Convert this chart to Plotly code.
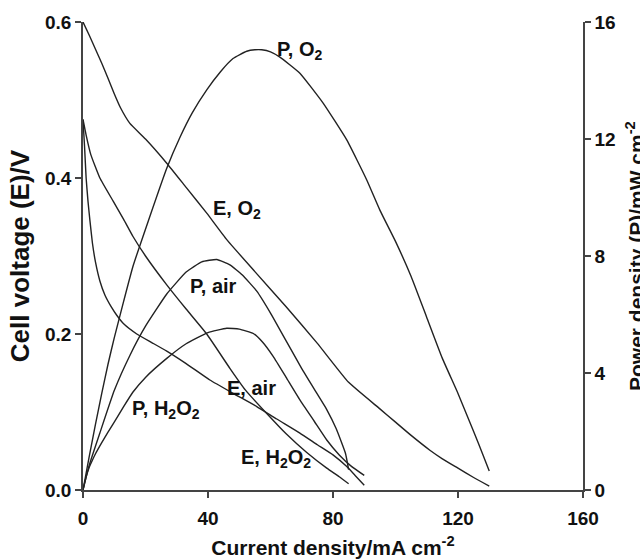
import plotly.graph_objects as go

# ---- data ----
x_E_O2 = [0, 2, 4, 6, 8, 10, 12, 15, 20, 26.8, 33, 39.6, 46, 55, 65, 75, 85, 95, 100, 105, 111, 115, 120, 125, 130]
E_O2 = [0.600, 0.583, 0.565, 0.547, 0.528, 0.508, 0.490, 0.470, 0.450, 0.419, 0.388, 0.355, 0.321, 0.280, 0.235, 0.188, 0.138, 0.104, 0.087, 0.070, 0.051, 0.040, 0.028, 0.016, 0.005]

x_P_O2 = [0, 2, 4, 6, 8, 10, 13, 16, 20.9, 26.8, 31, 35, 39.6, 44, 48, 52.4, 55, 57.2, 60, 63, 69.4, 76.9, 84.4, 90.8, 95, 100, 105, 110, 115, 120, 125, 128, 130]
P_O2 = [0, 1.15, 2.25, 3.3, 4.3, 5.2, 6.45, 7.65, 9.2, 11.0, 12.05, 12.9, 13.68, 14.3, 14.75, 15.0, 15.05, 15.05, 14.98, 14.8, 14.25, 13.22, 11.97, 10.6, 9.57, 8.5, 7.3, 5.9, 4.5, 3.3, 2.0, 1.2, 0.65]

x_E_air = [0, 1, 2.5, 5.4, 9.7, 13, 16, 20, 26.8, 33, 39.6, 47, 52, 58.8, 65, 71.6, 78, 82, 85]
E_air = [0.475, 0.455, 0.43, 0.40, 0.37, 0.347, 0.325, 0.300, 0.263, 0.232, 0.200, 0.156, 0.128, 0.098, 0.072, 0.048, 0.028, 0.017, 0.008]

x_P_air = [0, 2, 5.4, 10, 15, 20, 26.8, 33, 38, 42.8, 47, 51, 55.6, 60, 65, 70, 74, 78, 81, 84, 85]
P_air = [0, 0.85, 1.95, 3.4, 4.6, 5.6, 6.7, 7.45, 7.8, 7.88, 7.7, 7.35, 6.8, 6.05, 5.1, 4.15, 3.45, 2.75, 2.1, 1.25, 0.7]

x_E_H2O2 = [0, 0.5, 1, 1.6, 2.2, 3, 4, 5.4, 7, 9, 10.8, 13, 17.2, 22, 26.8, 33, 40.6, 48, 55.6, 62, 69.4, 75, 80, 84.4, 87, 90]
E_H2O2 = [0.475, 0.44, 0.40, 0.37, 0.346, 0.317, 0.292, 0.268, 0.250, 0.235, 0.224, 0.213, 0.200, 0.189, 0.178, 0.162, 0.141, 0.124, 0.107, 0.091, 0.073, 0.058, 0.045, 0.030, 0.019, 0.006]

x_P_H2O2 = [0, 1, 2, 3, 4, 6, 8, 10, 13, 16, 20, 26.8, 33, 40, 46, 50, 54.5, 57.5, 60.9, 65, 69.4, 74, 78, 82, 86, 90]
P_H2O2 = [0, 0.45, 0.78, 1.02, 1.24, 1.62, 1.98, 2.32, 2.85, 3.35, 3.85, 4.5, 5.0, 5.38, 5.53, 5.5, 5.35, 5.05, 4.56, 3.85, 3.08, 2.35, 1.71, 1.2, 0.8, 0.5]

x_ticks = [0, 40, 80, 120, 160]
yl_ticks = [0.0, 0.2, 0.4, 0.6]
yr_ticks = [0, 4, 8, 12, 16]

labels = ["P, O<sub>2</sub>", "E, O<sub>2</sub>", "P, air", "E, air", "P, H<sub>2</sub>O<sub>2</sub>", "E, H<sub>2</sub>O<sub>2</sub>"]
label_x = [69.4, 49.2, 41.9, 54.0, 26.5, 61.7]
label_y = [0.563, 0.359, 0.2615, 0.131, 0.1026, 0.040]

# ---- figure ----
FONT = "Liberation Sans"
LINE = dict(color="#222222", width=1.4, shape="spline", smoothing=0.4)
AX = "#444444"

fig = go.Figure()
for xs, ys in [(x_E_O2, E_O2), (x_E_air, E_air), (x_E_H2O2, E_H2O2)]:
    fig.add_trace(go.Scatter(x=xs, y=ys, mode="lines", line=LINE,
                             yaxis="y", showlegend=False, hoverinfo="skip"))
for xs, ys in [(x_P_O2, P_O2), (x_P_air, P_air), (x_P_H2O2, P_H2O2)]:
    fig.add_trace(go.Scatter(x=xs, y=ys, mode="lines", line=LINE,
                             yaxis="y2", showlegend=False, hoverinfo="skip"))

for t, lx, ly in zip(labels, label_x, label_y):
    fig.add_annotation(x=lx, y=ly, xref="x", yref="y", text=t, showarrow=False,
                       font=dict(family=FONT, size=20, color="#111111", weight="bold"),
                       xanchor="center", yanchor="middle")

fig.add_annotation(x=1.074, y=0.5, xref="paper", yref="paper",
                   text="Power density (P)/mW cm<sup>-2</sup>", textangle=-90, showarrow=False,
                   font=dict(family=FONT, size=21, color="#111111", weight="bold"),
                   xanchor="left", yanchor="middle")

tickfont = dict(family=FONT, size=19, color="#111111", weight="bold")
titlefont = dict(family=FONT, size=21, color="#111111", weight="bold")

fig.update_layout(
    width=640, height=559,
    margin=dict(l=83, r=57, t=22, b=69),
    paper_bgcolor="white", plot_bgcolor="white",
    xaxis=dict(range=[0, 160], tickvals=x_ticks, ticktext=[str(v) for v in x_ticks],
               showgrid=False, zeroline=False, showline=True, linecolor=AX, linewidth=1.5,
               ticks="outside", ticklen=6, tickcolor=AX, tickwidth=1.5, tickfont=tickfont,
               ticklabelstandoff=4,
               title=dict(text="Current density/mA cm<sup>-2</sup>", font=titlefont, standoff=14),
               automargin=False),
    yaxis=dict(range=[0, 0.6], tickvals=yl_ticks, ticktext=[f"{v:.1f}" for v in yl_ticks],
               showgrid=False, zeroline=False, showline=True, linecolor=AX, linewidth=1.5,
               ticks="outside", ticklen=6, tickcolor=AX, tickwidth=1.5, tickfont=tickfont,
               title=dict(text="Cell voltage (E)/V", font=dict(family=FONT, size=26, color="#111111", weight="bold"), standoff=8),
               automargin=False),
    yaxis2=dict(range=[0, 16], tickvals=yr_ticks, ticktext=[str(v) for v in yr_ticks],
                overlaying="y", side="right",
                showgrid=False, zeroline=False, showline=True, linecolor=AX, linewidth=1.5,
                ticks="outside", ticklen=6, tickcolor=AX, tickwidth=1.5, tickfont=tickfont,
                automargin=False),
)

fig.write_html("out.html")
